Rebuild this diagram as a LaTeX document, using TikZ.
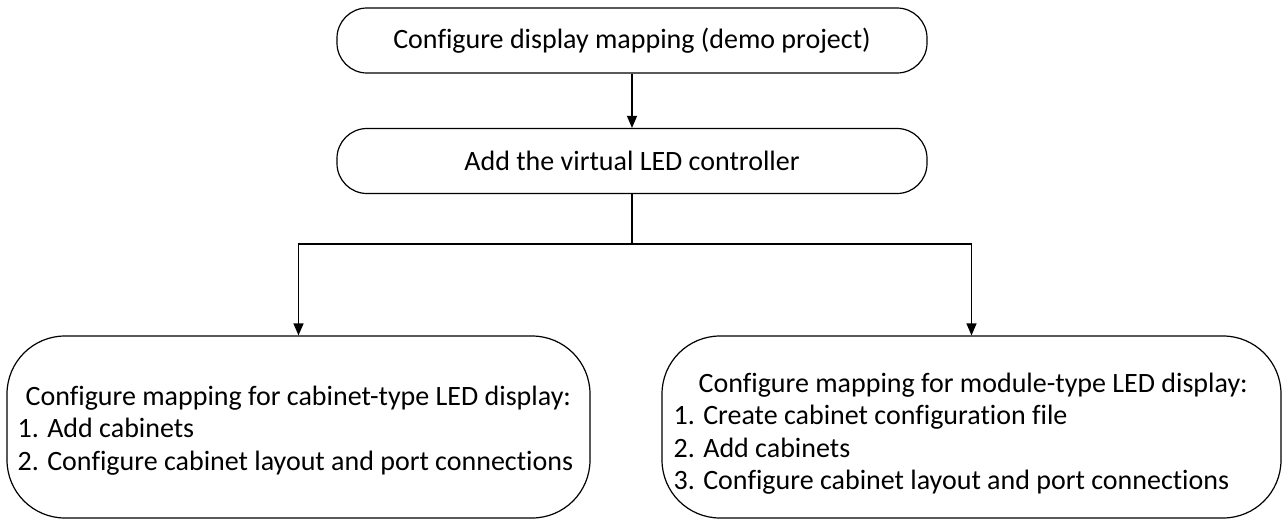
\documentclass[tikz,border=0pt]{standalone}
\usepackage{fontspec}
\setmainfont{Carlito}[Ligatures=NoCommon]
\usetikzlibrary{arrows.meta}
\begin{document}
\begin{tikzpicture}[x=1pt,y=1pt,
  line width=1.2pt,
  flow/.style={-{Triangle[length=12pt,width=10pt]}},
  pill/.style={draw, rounded corners=30pt, minimum width=590pt, minimum height=65pt, inner sep=0pt},
  bigbox/.style={draw, rounded corners=58pt, minimum height=182pt, inner sep=0pt},
  txt/.style={font=\fontsize{28}{32.5}\selectfont, inner sep=0pt},
  list/.style={txt, align=left, anchor=north west}
]
\useasboundingbox (0,0) rectangle (1285,-520);

% upper steps
\node[pill] (start) at (632,-40.5) {};
\node[txt] (starttext) at (start.center) {Configure display mapping (demo project)};
\node[pill] (ctrl) at (632,-161) {};
\node[txt] (ctrltext) at (ctrl.center) {Add the virtual LED controller};

% lower branches
\node[bigbox, minimum width=583pt] (cab) at (298.5,-427) {};
\node[bigbox, minimum width=619pt] (mod) at (971.5,-427) {};
\node[list] (cabtext) at (17,-385) {\hspace*{8pt}Configure mapping for cabinet-type LED display:\\
1. Add cabinets\\
2. Configure cabinet layout and port connections};
\node[list] (modtext) at (673,-372) {\hspace*{25pt}Configure mapping for module-type LED display:\\
1. Create cabinet configuration file\\
2. Add cabinets\\
3. Configure cabinet layout and port connections};

% connectors
\coordinate (split) at (632,-244);
\draw[flow] (start) -- (ctrl);
\draw (ctrl.south) -- (split);
\draw[flow] (split) -| (cab.north);
\draw[flow] (split) -| (mod.north);
\end{tikzpicture}
\end{document}
